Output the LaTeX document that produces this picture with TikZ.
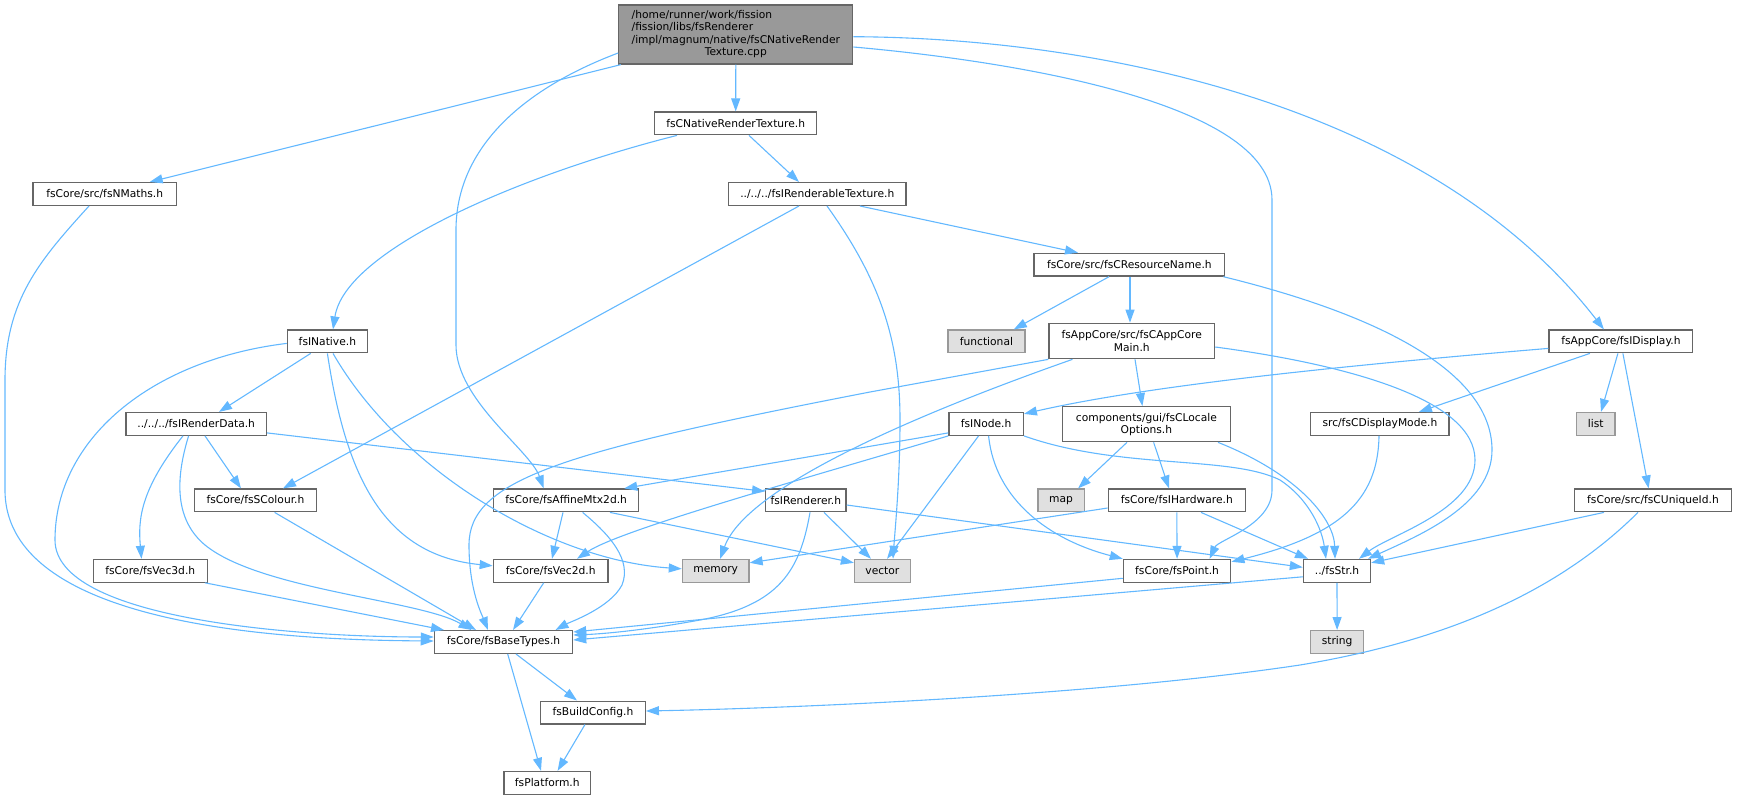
\documentclass[tikz,border=0pt]{standalone}
\usepackage{fontspec}
\setmainfont{DejaVu Sans}
\usetikzlibrary{arrows.meta}
\definecolor{edgec}{HTML}{63B8FF}
\definecolor{bord}{HTML}{666666}
\definecolor{gbord}{HTML}{999999}
\definecolor{gfill}{HTML}{E0E0E0}
\definecolor{rootfill}{HTML}{999999}
\begin{document}
\begin{tikzpicture}[x=1pt,y=-1pt,
  box/.style={draw=bord, fill=white, line width=1.3pt, inner sep=0pt, minimum height=22.7pt, minimum width=#1pt, font=\fontsize{10.7}{12.2}\selectfont, align=center},
  sysbox/.style={box=#1, draw=gbord, fill=gfill},
  dep/.style={draw=edgec, line width=1.1pt, -{Triangle[length=13pt,width=9pt]}},
]
\useasboundingbox (0,0) rectangle (1737,800);
% nodes
\node[box=234, minimum height=59pt, fill=rootfill] (root) at (735.8,34.5) {\begin{tabular}{@{}l@{}}/home/runner/work/fission\\/fission/libs/fsRenderer\\/impl/magnum/native/fsCNativeRender\\\multicolumn{1}{@{}c@{}}{Texture.cpp}\end{tabular}};
\node[box=162] (nrt) at (735.7,123.4) {fsCNativeRenderTexture.h};
\node[box=143.4] (nmaths) at (104.7,194) {fsCore/src/fsNMaths.h};
\node[box=177.5] (irt) at (817.3,194) {../../../fsIRenderableTexture.h};
\node[box=190.7] (crn) at (1129.4,264.7) {fsCore/src/fsCResourceName.h};
\node[box=80] (inative) at (327.4,341.4) {fsINative.h};
\node[sysbox=77] (functional) at (986.4,341.4) {functional};
\node[box=165.6, minimum height=35.4pt] (appmain) at (1131.8,341) {fsAppCore/src/fsCAppCore\\Main.h};
\node[box=143.8] (idisplay) at (1620.9,341.4) {fsAppCore/fsIDisplay.h};
\node[box=140.3] (irdata) at (196.2,423.9) {../../../fsIRenderData.h};
\node[box=74.4] (inode) at (986.1,423.9) {fsINode.h};
\node[box=167.7, minimum height=35pt] (locale) at (1146.4,424.2) {components/gui/fsCLocale\\Options.h};
\node[box=138.2] (dispmode) at (1379.9,423.9) {src/fsCDisplayMode.h};
\node[sysbox=38.6] (list) at (1595.7,423.9) {list};
\node[box=122.6] (scolour) at (255.5,500.4) {fsCore/fsSColour.h};
\node[box=144.8] (affine) at (566.2,500.4) {fsCore/fsAffineMtx2d.h};
\node[box=80.4] (irenderer) at (805.9,500.4) {fsIRenderer.h};
\node[sysbox=46.4] (map) at (1061.1,500.4) {map};
\node[box=137] (ihardware) at (1176.8,500.4) {fsCore/fsIHardware.h};
\node[box=156.5] (uniqueid) at (1653,500.4) {fsCore/src/fsCUniqueId.h};
\node[box=114.3] (vec3d) at (150.3,570.8) {fsCore/fsVec3d.h};
\node[box=114.8] (vec2d) at (550.7,570.8) {fsCore/fsVec2d.h};
\node[sysbox=66.6] (memory) at (715.7,570.8) {memory};
\node[sysbox=55.8] (vector) at (882.4,570.8) {vector};
\node[box=107.4] (point) at (1177.1,570.8) {fsCore/fsPoint.h};
\node[box=67.1] (str) at (1337,570.8) {../fsStr.h};
\node[box=138.2] (basetypes) at (503.5,642) {fsCore/fsBaseTypes.h};
\node[sysbox=52.6] (string) at (1337.1,642) {string};
\node[box=104.6] (buildconfig) at (593,712.5) {fsBuildConfig.h};
\node[box=86.7] (platform) at (547.3,782.8) {fsPlatform.h};
% edges
\draw[dep] (root.south) -- (nrt.north);
\draw[dep] ([xshift=-115pt]root.south) -- ([xshift=45pt]nmaths.north);
\draw[dep] ([yshift=-18.5pt]root.west) .. controls (520,90) and (456,150) .. (456,230) -- (456,345) .. controls (456,400) and (530,450) .. ([xshift=-22.5pt]affine.north);
\draw[dep] ([yshift=-12.5pt]root.east) .. controls (1000,60) and (1272,100) .. (1272,200) -- (1272,490) .. controls (1272,525) and (1218,540) .. ([xshift=32.5pt]point.north);
\draw[dep] ([yshift=-2.2pt]root.east) .. controls (1100,38) and (1430,105) .. ([xshift=-17pt]idisplay.north);
\draw[dep] ([xshift=-58.7pt]nrt.south) .. controls (520,175) and (345,250) .. ([xshift=5.6pt]inative.north);
\draw[dep] ([xshift=13.3pt]nrt.south) -- ([xshift=-18.3pt]irt.north);
\draw[dep] ([xshift=42.7pt]irt.south) -- ([xshift=-51.4pt]crn.north);
\draw[dep] ([xshift=-18.3pt]irt.south) -- ([xshift=27.5pt]scolour.north);
\draw[dep] ([xshift=9.7pt]irt.south) .. controls (880,280) and (900,340) .. (900,420) .. controls (900,480) and (895,530) .. ([xshift=10.6pt]vector.north);
\draw[dep] ([xshift=-20.4pt]crn.south) -- ([xshift=27.4pt]functional.north);
\draw[dep] ([xshift=0.6pt]crn.south) -- ([xshift=-1.8pt]appmain.north);
\draw[dep] ([xshift=94pt]crn.south) .. controls (1400,320) and (1492,380) .. (1492,450) .. controls (1492,505) and (1420,535) .. ([xshift=31pt]str.north);
\draw[dep] (appmain.south west) -- (870,392) .. controls (560,452) and (469,480) .. (469,545) .. controls (469,590) and (482,615) .. ([xshift=-15.5pt]basetypes.north);
\draw[dep] ([xshift=-59.3pt]appmain.south) .. controls (900,420) and (745,490) .. ([xshift=4.5pt]memory.north);
\draw[dep] ([xshift=3.2pt]appmain.south) -- ([xshift=-4pt]locale.north);
\draw[dep] ([yshift=-6pt]appmain.east) .. controls (1350,365) and (1475,400) .. (1475,460) .. controls (1475,510) and (1390,535) .. ([xshift=22pt]str.north);
\draw[dep] ([xshift=-16.7pt]inative.south) -- ([xshift=22.8pt]irdata.north);
\draw[dep] (inative.south) .. controls (345,470) and (380,555) .. ([yshift=5pt]vec2d.west);
\draw[dep] ([xshift=5.6pt]inative.south) .. controls (400,470) and (550,560) .. ([yshift=2pt]memory.west);
\draw[dep] ([yshift=-2pt]inative.west) .. controls (150,360) and (55,440) .. (55,540) .. controls (55,620) and (300,637) .. ([yshift=5pt]basetypes.west);
\draw[dep] ([xshift=-15.7pt]nmaths.south) .. controls (40,260) and (5,300) .. (5,380) -- (5,490) .. controls (5,630) and (300,640) .. ([yshift=1pt]basetypes.west);
\draw[dep] ([xshift=-13.2pt]irdata.south) .. controls (140,490) and (138,520) .. ([xshift=-8.8pt]vec3d.north);
\draw[dep] ([xshift=-7.6pt]irdata.south) .. controls (175,480) and (175,520) .. (205,545) .. controls (260,590) and (420,600) .. ([xshift=-32pt]basetypes.north);
\draw[dep] ([xshift=8.8pt]irdata.south) -- ([xshift=-14.5pt]scolour.north);
\draw[dep] ([yshift=-9pt]irdata.east) -- ([yshift=9pt]irenderer.west);
\draw[dep] ([xshift=54.7pt]vec3d.south) -- ([xshift=-59.5pt]basetypes.north);
\draw[dep] ([xshift=19.1pt]scolour.south) -- ([xshift=-27.5pt]basetypes.north);
\draw[dep] ([xshift=-3.2pt]affine.south) -- ([xshift=1.3pt]vec2d.north);
\draw[dep] ([xshift=16.4pt]affine.south) .. controls (610,535) and (632,560) .. (622,585) .. controls (610,608) and (570,622) .. ([xshift=52pt]basetypes.north);
\draw[dep] ([xshift=43.8pt]affine.south) -- ([yshift=8pt]vector.west);
\draw[dep] ([xshift=18.1pt]irenderer.south) -- ([xshift=-11.4pt]vector.north);
\draw[dep] ([xshift=4.1pt]irenderer.south) .. controls (800,570) and (780,605) .. (700,620) .. controls (640,631) and (600,634) .. ([yshift=7pt]basetypes.east);
\draw[dep] ([yshift=-4.6pt]irenderer.east) -- ([yshift=3.5pt]str.west);
\draw[dep] ([xshift=-7pt]vec2d.south) -- ([xshift=9.5pt]basetypes.north);
\draw[dep] ([yshift=-9pt]inode.west) -- ([xshift=58pt]affine.north);
\draw[dep] (inode.south west) .. controls (800,480) and (620,530) .. ([xshift=26.3pt]vec2d.north);
\draw[dep] ([xshift=-7.5pt]inode.south) -- ([xshift=4.6pt]vector.north);
\draw[dep] ([xshift=2.5pt]inode.south) .. controls (995,500) and (1050,540) .. (point.north west);
\draw[dep] (inode.south east) .. controls (1120,470) and (1230,455) .. (1280,480) .. controls (1310,500) and (1322,530) .. ([xshift=-11pt]str.north);
\draw[dep] ([xshift=-19.4pt]locale.south) -- ([xshift=17pt]map.north);
\draw[dep] ([xshift=7.2pt]locale.south) -- ([xshift=-7.8pt]ihardware.north);
\draw[dep] ([xshift=71.6pt]locale.south) .. controls (1300,475) and (1334,520) .. ([xshift=-2pt]str.north);
\draw[dep] ([yshift=-7.6pt]ihardware.west) -- ([yshift=8pt]memory.east);
\draw[dep] (ihardware.south) -- (point.north);
\draw[dep] ([xshift=24.2pt]ihardware.south) -- ([xshift=-29pt]str.north);
\draw[dep] ([xshift=-0.9pt]dispmode.south) .. controls (1378,500) and (1340,535) .. ([yshift=9pt]point.east);
\draw[dep] ([yshift=-7pt]idisplay.west) .. controls (1350,365) and (1150,385) .. ([yshift=10pt]inode.east);
\draw[dep] ([xshift=-31pt]idisplay.south) -- ([xshift=39pt]dispmode.north);
\draw[dep] ([xshift=-3pt]idisplay.south) -- ([xshift=5.3pt]list.north);
\draw[dep] ([xshift=2pt]idisplay.south) -- ([xshift=-4.4pt]uniqueid.north);
\draw[dep] ([xshift=-49pt]uniqueid.south) -- ([yshift=8pt]str.east);
\draw[dep] ([xshift=-15pt]uniqueid.south) .. controls (1560,590) and (1450,640) .. (1300,665) .. controls (1100,695) and (800,708) .. ([yshift=1.5pt]buildconfig.east);
\draw[dep] (str.south) -- (string.north);
\draw[dep] ([yshift=-6pt]str.west) -- ([yshift=2pt]basetypes.east);
\draw[dep] ([yshift=-7.5pt]point.west) -- ([yshift=10pt]basetypes.east);
\draw[dep] ([xshift=12.5pt]basetypes.south) -- ([xshift=-16pt]buildconfig.north);
\draw[dep] ([xshift=4.2pt]basetypes.south) -- ([xshift=-6.3pt]platform.north);
\draw[dep] ([xshift=-8pt]buildconfig.south) -- ([xshift=10.3pt]platform.north);
\end{tikzpicture}
\end{document}
